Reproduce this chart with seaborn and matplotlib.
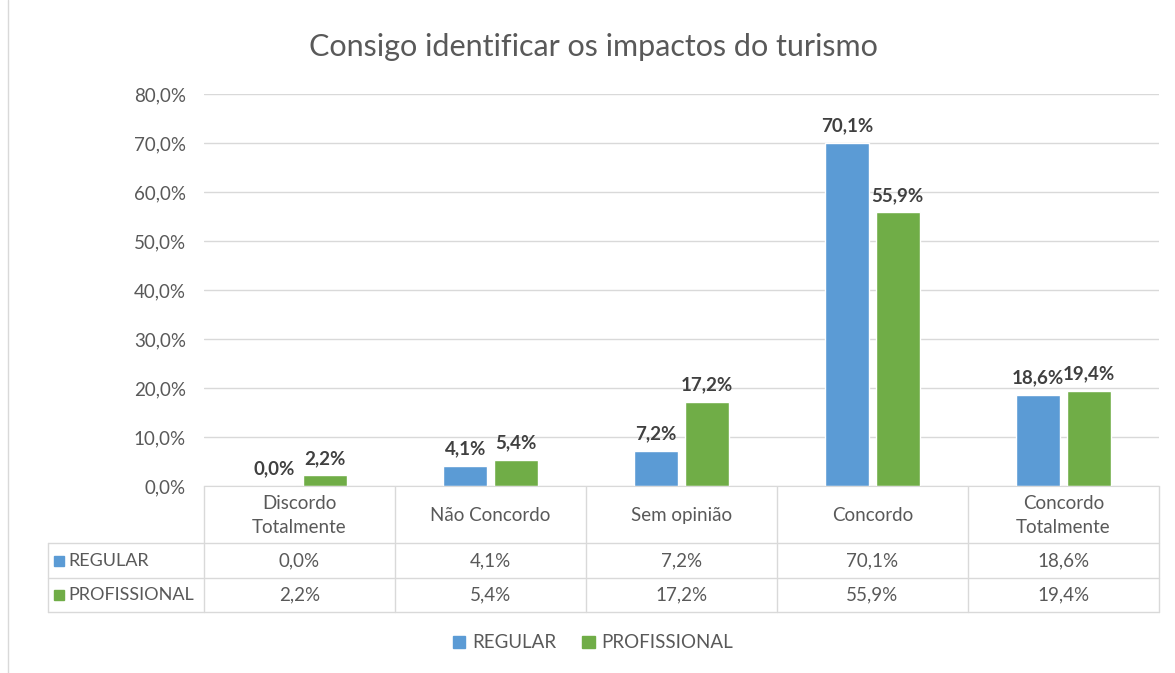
import pandas as pd
import seaborn as sns
import matplotlib.pyplot as plt
from matplotlib.lines import Line2D
from matplotlib.patches import Patch, Rectangle

# data
categorias = ['Discordo\nTotalmente', 'Não Concordo', 'Sem opinião', 'Concordo', 'Concordo\nTotalmente']
regular = [0.0, 4.1, 7.2, 70.1, 18.6]
profissional = [2.2, 5.4, 17.2, 55.9, 19.4]
series = ['REGULAR', 'PROFISSIONAL']
cores = ['#5B9BD5', '#70AD47']
titulo = 'Consigo identificar os impactos do turismo'
yticks = [0, 10, 20, 30, 40, 50, 60, 70, 80]


def pct(v):
    return f'{v:.1f}%'.replace('.', ',')


df = pd.DataFrame({
    'cat': categorias * 2,
    'valor': regular + profissional,
    'serie': [series[0]] * 5 + [series[1]] * 5,
})

sns.set_style('white')
plt.rcParams['font.family'] = ['Lato', 'DejaVu Sans']
texto = '#595959'
fs = 13.5

W, H = 1175, 673
fig = plt.figure(figsize=(W / 100, H / 100), dpi=100)
L, R, T, B = 204, 1159, 94, 486
ax = fig.add_axes([L / W, 1 - B / H, (R - L) / W, (B - T) / H])

sns.barplot(data=df, x='cat', y='valor', hue='serie', palette=cores,
            width=0.53, gap=0.14, ax=ax, legend=False, saturation=1)

ax.set_ylim(0, 80)
ax.set_xlim(-0.5, 4.5)
ax.set_yticks(yticks)
ax.set_yticklabels([pct(v) for v in yticks], fontsize=fs, color=texto)
ax.tick_params(axis='y', length=0, pad=13)
ax.set_xticks([])
ax.set_xlabel('')
ax.set_ylabel('')
ax.grid(axis='y', color='#D9D9D9', linewidth=1)
ax.set_axisbelow(True)
for s in ['top', 'right', 'left']:
    ax.spines[s].set_visible(False)
ax.spines['bottom'].set_color('#D9D9D9')

for cont, vals in zip(ax.containers, [regular, profissional]):
    ax.bar_label(cont, labels=[pct(v) for v in vals], padding=6,
                 fontsize=fs, fontweight='bold', color='#404040')

fig.text(593 / W, 1 - 47 / H, titulo, ha='center', va='center',
         fontsize=22, color=texto)

# data table below the axis
tab = fig.add_axes([0, 0, 1, 1], zorder=-1)
tab.set_xlim(0, W)
tab.set_ylim(H, 0)
tab.axis('off')
lc = '#D9D9D9'
x0 = 48
cw = (R - L) / len(categorias)
rows = [B, 543, 578, 612]
for y in rows[1:]:
    tab.add_line(Line2D([x0, R], [y, y], color=lc, lw=1))
tab.add_line(Line2D([x0, x0], [rows[1], rows[3]], color=lc, lw=1))
for i in range(len(categorias) + 1):
    x = L + i * cw
    tab.add_line(Line2D([x, x], [B, rows[3]], color=lc, lw=1))

for i, c in enumerate(categorias):
    xc = L + (i + 0.5) * cw
    tab.text(xc, (rows[0] + rows[1]) / 2 + 1, c, ha='center', va='center',
             fontsize=fs, color=texto, linespacing=1.45)
    for r, vals in enumerate([regular, profissional]):
        tab.text(xc, (rows[r + 1] + rows[r + 2]) / 2, pct(vals[i]),
                 ha='center', va='center', fontsize=fs, color=texto)

for r, (nome, cor) in enumerate(zip(series, cores)):
    yc = (rows[r + 1] + rows[r + 2]) / 2
    tab.add_patch(Rectangle((54, yc - 5), 10, 10, color=cor))
    tab.text(68, yc, nome, ha='left', va='center', fontsize=13, color=texto)

# chart border (left edge visible)
tab.add_line(Line2D([8, 8], [0, H], color='#D9D9D9', lw=1))

handles = [Patch(color=c, label=s) for s, c in zip(series, cores)]
leg = fig.legend(handles=handles, loc='center', bbox_to_anchor=(593 / W, 1 - 643 / H),
                 ncol=2, frameon=False, fontsize=fs, handlelength=0.65,
                 handleheight=0.65, handletextpad=0.35, columnspacing=1.4)
for t in leg.get_texts():
    t.set_color(texto)

fig.savefig('out.png', dpi=100)
